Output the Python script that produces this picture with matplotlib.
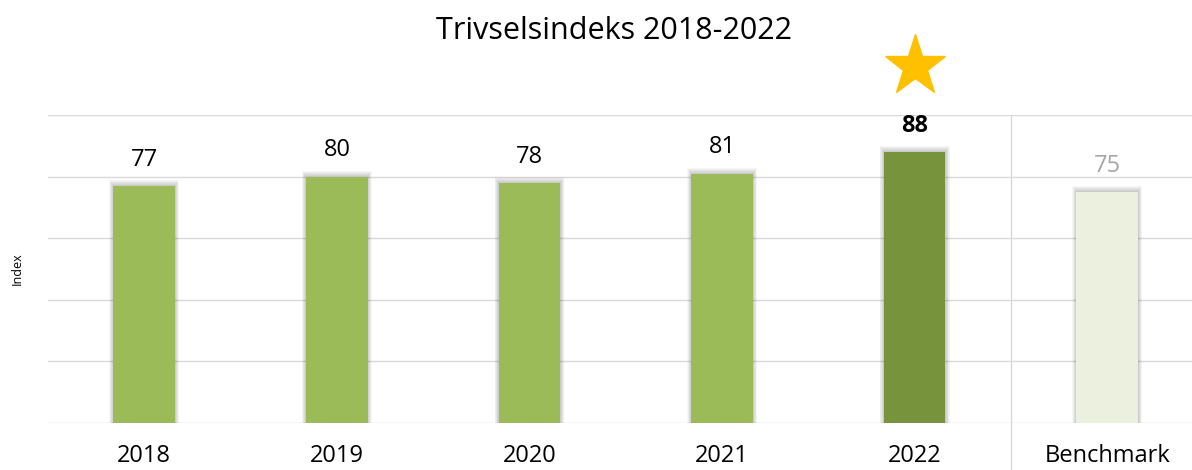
import matplotlib
matplotlib.use("Agg")
import matplotlib.pyplot as plt
import matplotlib.patches as mpatches

# ── Data ──────────────────────────────────────────────────────────────────────
categories = ["2018", "2019", "2020", "2021", "2022", "Benchmark"]
values = [77, 80, 78, 81, 88, 75]
bar_colors = ["#9BBB59", "#9BBB59", "#9BBB59", "#9BBB59", "#77933C", "#EBF1DE"]
label_colors = ["black", "black", "black", "black", "black", "#A6A6A6"]
label_weights = ["normal", "normal", "normal", "normal", "bold", "normal"]
highlight = "2022"

plt.rcParams.update({
    "font.family": ["Open Sans", "DejaVu Sans"],
    "font.size": 14,
})

fig = plt.figure(figsize=(11.92, 4.70), dpi=100)
ax = fig.add_axes([48 / 1192, 47 / 470, 1 - 48 / 1192, 308 / 470])

x = list(range(len(categories)))
width = 0.32

# soft shadow behind each bar (a few stacked translucent layers)
for xi, v in zip(x, values):
    for k in range(6):
        pad = 0.0035 * (k + 1)
        ax.add_patch(mpatches.Rectangle((xi - width / 2 - pad, 0), width + 2 * pad,
                                        v + 0.3 * (k + 1), color="black",
                                        alpha=0.035, lw=0, zorder=2))

ax.bar(x, values, width=width, color=bar_colors, zorder=3)

for xi, v, c, w in zip(x, values, label_colors, label_weights):
    ax.text(xi, v + 8.5, f"{v}", ha="center", va="center", fontsize=17,
            color=c, fontweight=w)

# star over the highlighted year
hx = categories.index(highlight)
ax.plot(hx, 116, marker="*", markersize=46, color="#FFC000", clip_on=False, zorder=5)

ax.set_xlim(-0.5, 5.44)
ax.set_ylim(0, 100)
ax.set_yticks([0, 20, 40, 60, 80, 100])
ax.set_yticklabels([])
ax.tick_params(axis="both", length=0)
ax.set_xticks(x)
ax.set_xticklabels(categories, fontsize=17)
ax.tick_params(axis="x", pad=15)
ax.grid(axis="y", color="#D9D9D9", lw=1, zorder=0)
for s in ax.spines.values():
    s.set_visible(False)

# separator between years and benchmark
ax.plot([4.5, 4.5], [-16, 100], color="#D9D9D9", lw=1, clip_on=False, zorder=1)

ax.set_ylabel("Index", fontsize=9, labelpad=14)
fig.text(0.515, 0.935, "Trivselsindeks 2018-2022", ha="center", va="center", fontsize=22)

fig.savefig("out.png", dpi=100)
